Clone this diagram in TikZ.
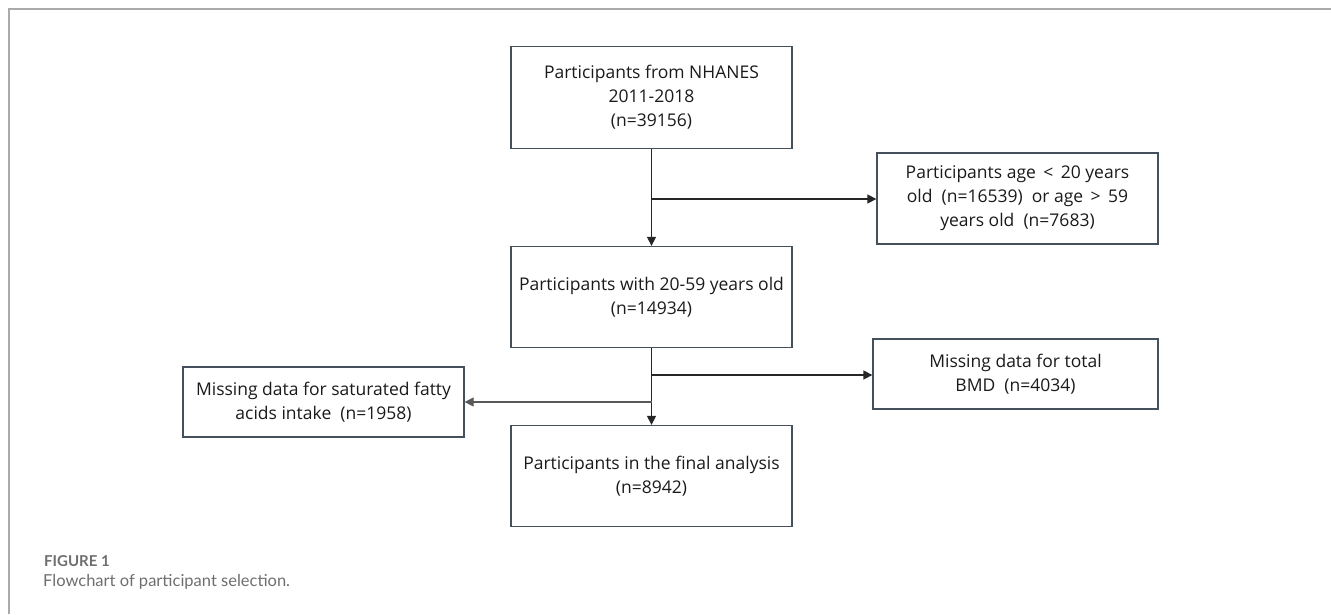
\documentclass[tikz,border=0pt]{standalone}
\usepackage{fontspec}
\setmainfont{Open Sans}
\newfontfamily\capfont{Lato}
\usetikzlibrary{arrows.meta}
\definecolor{boxline}{HTML}{44505C}
\definecolor{txt}{HTML}{1A1A1A}
\definecolor{framegray}{HTML}{AAAAAA}
\definecolor{capgray}{HTML}{6E6E6E}
\tikzset{
  flowbox/.style={draw=boxline, line width=1.3pt, rectangle, align=center,
    text=txt, font=\fontsize{17.5}{24}\selectfont, inner sep=0pt},
  conn/.style={draw=black!85, line width=1.3pt, -{Triangle[length=9pt,width=9pt]}},
}
\begin{document}
\begin{tikzpicture}[x=1pt,y=-1pt]
\useasboundingbox (0,0) rectangle (1331,614);
\draw[framegray, line width=2pt] (9,614) -- (9,9) -- (1331,9);
\node[flowbox, minimum width=281pt, minimum height=102pt] (b1) at (651.5,97.5)
  {Participants from NHANES\\2011-2018\\(n=39156)};
\node[flowbox, minimum width=281pt, minimum height=91pt] (b2) at (1017.5,198.5)
  {Participants age\,\ <\,\ 20 years\\old\ \ (n=16539)\ \ or age\,\ >\,\ 59\\years old\ \ (n=7683)};
\node[flowbox, minimum width=281pt, minimum height=101pt] (b3) at (651.5,297)
  {Participants with 20-59 years old\\(n=14934)};
\node[flowbox, minimum width=285pt, minimum height=70pt] (b4) at (1015.5,374)
  {Missing data for total\\BMD\ \ (n=4034)};
\node[flowbox, minimum width=281pt, minimum height=70pt] (b5) at (323.5,402)
  {Missing data for saturated fatty\\acids intake\ \ (n=1958)};
\node[flowbox, minimum width=281pt, minimum height=101pt] (b6) at (651.5,476)
  {Participants in the final analysis\\(n=8942)};
\coordinate (j1) at (651.5,199);
\coordinate (j2) at (651.5,375);
\coordinate (j3) at (651.5,402);
\draw[conn] (b1) -- (b3);
\draw[conn] (j1) -- (j1 -| b2.west);
\draw[conn] (b3) -- (b6);
\draw[conn] (j2) -- (j2 -| b4.west);
\draw[conn, draw=black!65] (j3) -- (b5.east);
\node[anchor=base west, inner sep=0pt, text=capgray, font=\capfont\bfseries\fontsize{15}{17}\selectfont] (fig) at (44,566) {FIGURE 1};
\node[anchor=base west, inner sep=0pt, text=capgray, font=\capfont\fontsize{16.5}{19}\selectfont] (cap) at (43,586) {Flowchart of participant selection.};
\end{tikzpicture}
\end{document}
